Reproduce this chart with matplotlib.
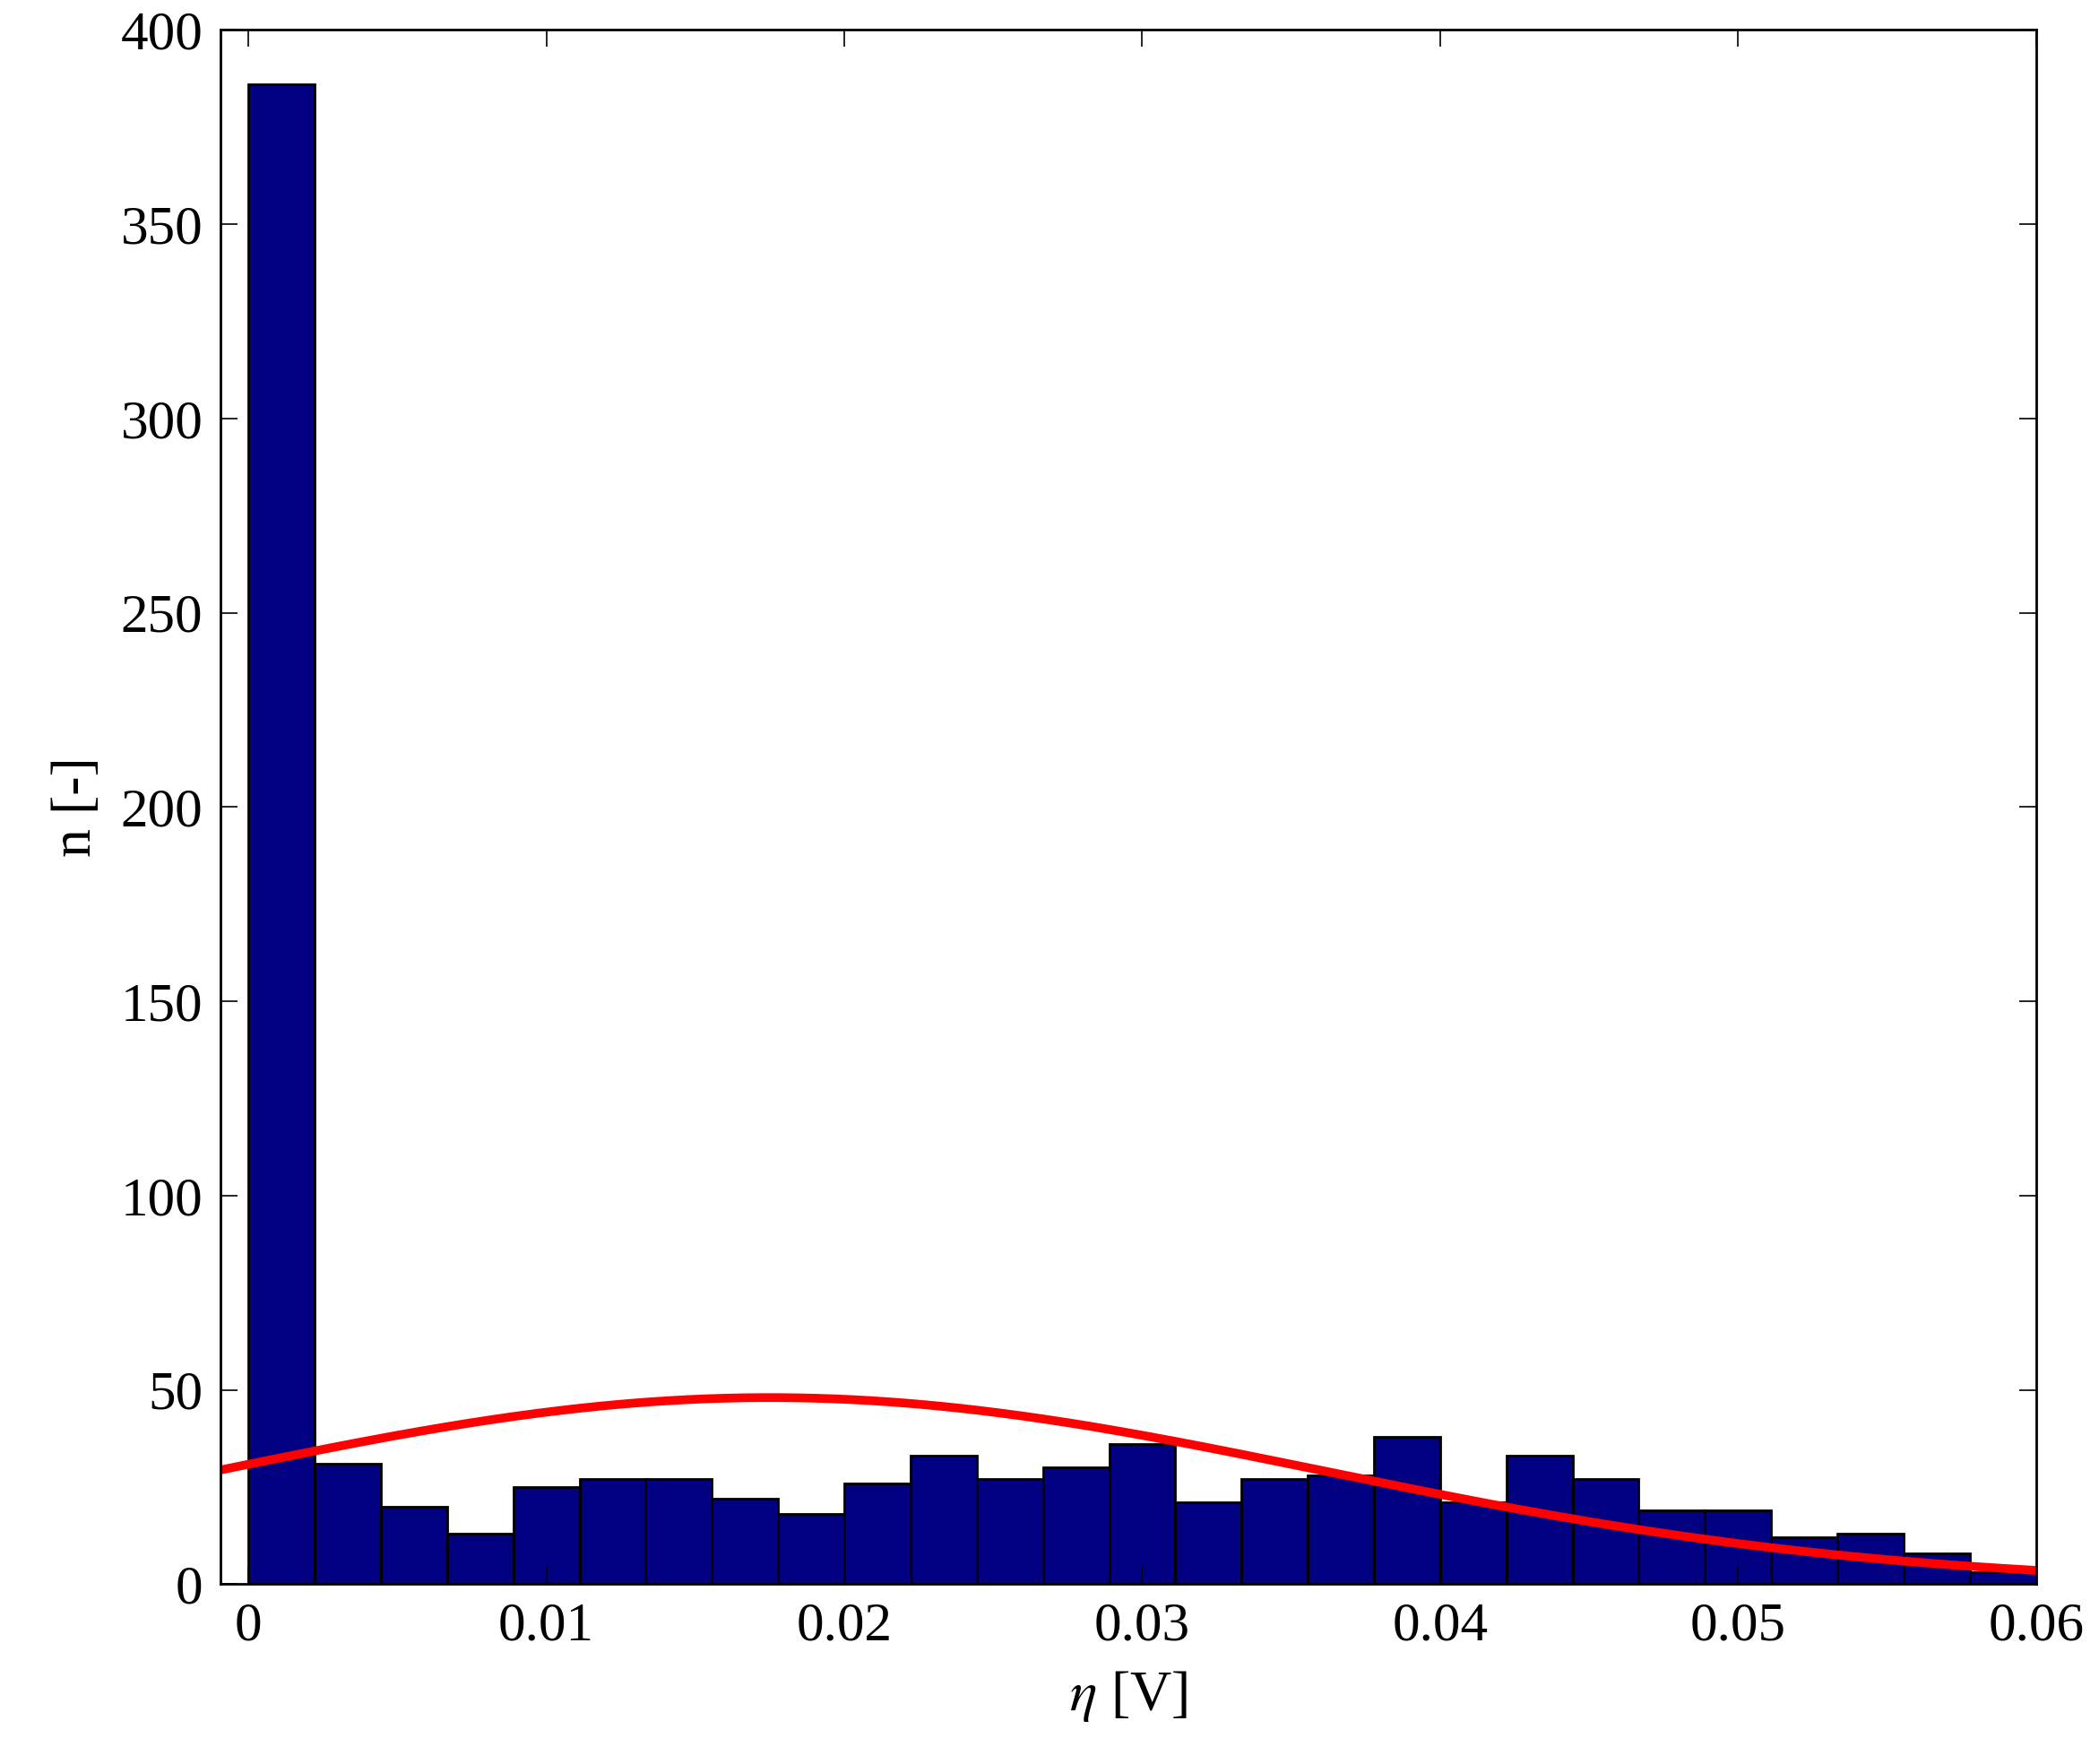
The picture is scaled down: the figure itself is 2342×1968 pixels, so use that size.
import numpy as np
import matplotlib
matplotlib.use("Agg")
import matplotlib.pyplot as plt

# histogram counts, 27 equal bins from 0 to 0.06 V
bin_lo, bin_hi = 0.0, 0.06
counts = [386, 31, 20, 13, 25, 27, 27, 22, 18, 26, 33, 27, 30, 36,
          21, 27, 28, 38, 21, 33, 27, 19, 19, 12, 13, 8, 3]

# fitted normal curve
fit_mu = 0.0175
fit_sigma = 0.0186
fit_peak = 48.0

x_ticks = [0, 0.01, 0.02, 0.03, 0.04, 0.05, 0.06]
x_labels = ["0", "0.01", "0.02", "0.03", "0.04", "0.05", "0.06"]
y_ticks = [0, 50, 100, 150, 200, 250, 300, 350, 400]

plt.rcParams["font.family"] = ["Liberation Serif", "DejaVu Serif"]
plt.rcParams["mathtext.fontset"] = "stix"

fig = plt.figure(figsize=(23.42, 19.68), dpi=100)
ax = fig.add_axes([0.105, 0.102, 0.865, 0.881])

edges = np.linspace(bin_lo, bin_hi, len(counts) + 1)
ax.bar(edges[:-1], counts, width=np.diff(edges), align="edge",
       color="#000080", edgecolor="black", linewidth=2)

xs = np.linspace(-0.001, 0.06, 400)
ax.plot(xs, fit_peak * np.exp(-(xs - fit_mu) ** 2 / (2 * fit_sigma ** 2)),
        color="red", lw=7)

ax.set_xlim(-0.00094, 0.06)
ax.set_ylim(0, 400)
ax.set_xticks(x_ticks)
ax.set_xticklabels(x_labels)
ax.set_yticks(y_ticks)
ax.tick_params(direction="in", length=14, width=1.2, top=True, right=True,
               labelsize=44, pad=14)
for s in ax.spines.values():
    s.set_linewidth(2)
ax.set_xlabel(r"$\eta$ [V]", fontsize=46, labelpad=14)
ax.set_ylabel("n [-]", fontsize=46, labelpad=14)

fig.savefig("out.png", dpi=100)
